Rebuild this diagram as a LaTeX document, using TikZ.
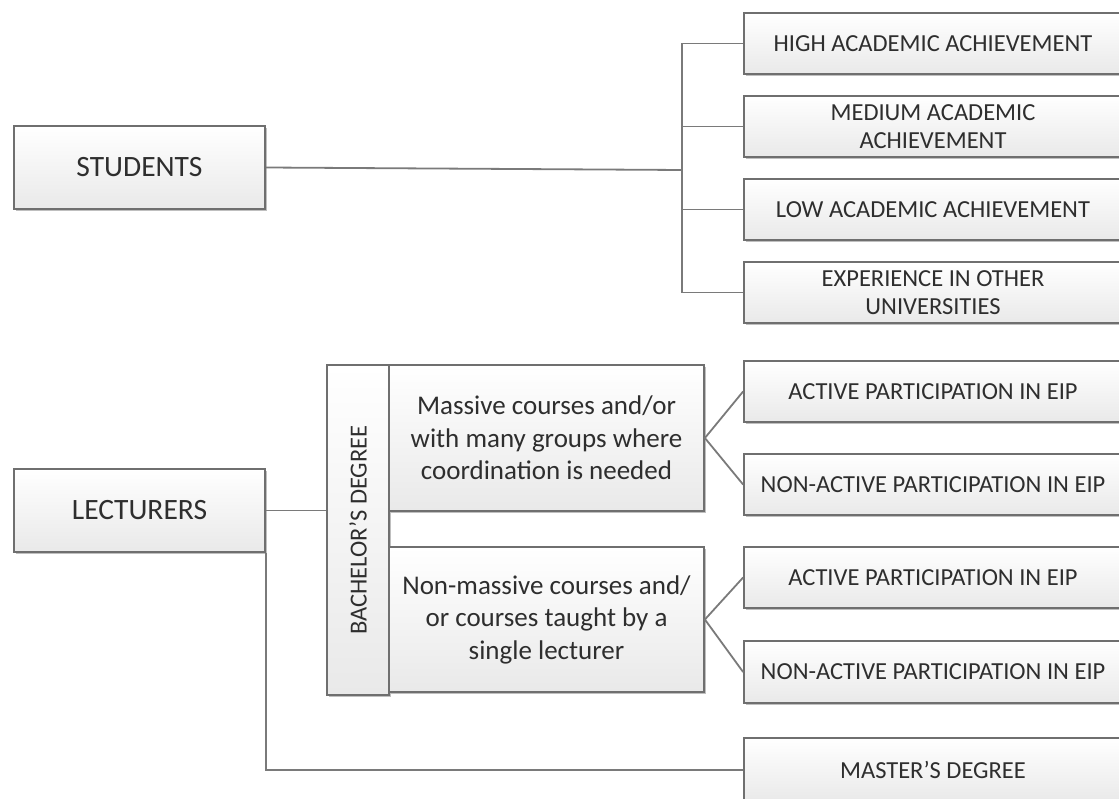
\documentclass[tikz,border=0pt]{standalone}
\usepackage{fontspec}
\setmainfont{Carlito}
\usetikzlibrary{shadows}
\definecolor{boxline}{HTML}{6F6F6F}
\definecolor{conn}{HTML}{7A7A7A}
\definecolor{txt}{HTML}{2E2E2E}
\definecolor{boxbot}{HTML}{E9E9E9}
\tikzset{
  box/.style={draw=boxline, line width=1.8pt, top color=white, bottom color=boxbot,
    text=txt, align=center, inner sep=0pt,
    drop shadow={opacity=0.25, shadow xshift=2pt, shadow yshift=-2pt, fill=black}},
  bigtxt/.style={font=\fontsize{29.5}{34}\selectfont},
  midtxt/.style={font=\fontsize{27}{32.5}\selectfont},
  smalltxt/.style={font=\fontsize{24.5}{28.5}\selectfont},
  conline/.style={draw=conn, line width=1.8pt}
}
\begin{document}
\begin{tikzpicture}[x=1pt,y=-1pt]
\useasboundingbox (0,0) rectangle (1119,799);
\clip (0,0) rectangle (1119,799);
% students branch
\node[box, bigtxt, minimum width=251pt, minimum height=83pt] (stud) at (139.5,167.5) {STUDENTS};
\node[box, smalltxt, minimum width=378pt, minimum height=61pt] (h1) at (933,43.5) {HIGH ACADEMIC ACHIEVEMENT};
\node[box, smalltxt, minimum width=378pt, minimum height=61pt] (h2) at (933,126.5) {MEDIUM ACADEMIC\\ACHIEVEMENT};
\node[box, smalltxt, minimum width=378pt, minimum height=61pt] (h3) at (933,209.5) {LOW ACADEMIC ACHIEVEMENT};
\node[box, smalltxt, minimum width=378pt, minimum height=61pt] (h4) at (933,292.5) {EXPERIENCE IN OTHER\\UNIVERSITIES};
\coordinate (sb) at (682,170);
\draw[conline] (stud.east) -- (sb);
\draw[conline] (h1.west) -- (h1.west -| sb) -- (h4.west -| sb) -- (h4.west);
\draw[conline] (h2.west) -- (h2.west -| sb);
\draw[conline] (h3.west) -- (h3.west -| sb);
% lecturers branch
\node[box, bigtxt, minimum width=251pt, minimum height=83pt] (lect) at (139.5,510.5) {LECTURERS};
\node[box, minimum width=62pt, minimum height=330pt] (bach) at (358,530) {};
\node[smalltxt, text=txt, rotate=90, inner sep=0pt] (bacht) at (bach.center) {BACHELOR’S DEGREE};
\node[box, midtxt, minimum width=315pt, minimum height=146pt] (mass) at (546.5,438) {Massive courses and/or\\with many groups where\\coordination is needed};
\node[box, midtxt, minimum width=315pt, minimum height=145pt] (nonm) at (546.5,619.5) {Non-massive courses and/\\or courses taught by a\\single lecturer};
\node[box, smalltxt, minimum width=378pt, minimum height=61pt] (a1) at (933,391.5) {ACTIVE PARTICIPATION IN EIP};
\node[box, smalltxt, minimum width=378pt, minimum height=61pt] (a2) at (933,484.5) {NON-ACTIVE PARTICIPATION IN EIP};
\node[box, smalltxt, minimum width=378pt, minimum height=61pt] (b1) at (933,577.5) {ACTIVE PARTICIPATION IN EIP};
\node[box, smalltxt, minimum width=378pt, minimum height=62pt] (b2) at (933,672) {NON-ACTIVE PARTICIPATION IN EIP};
\node[box, smalltxt, minimum width=378pt, minimum height=64pt] (mast) at (933,770) {MASTER’S DEGREE};
\draw[conline] (lect.east) -- (lect.east -| bach.west);
\draw[conline] (lect.south east) |- (mast.west);
\draw[conline] (a1.west) -- (mass.east) -- (a2.west);
\draw[conline] (b1.west) -- (nonm.east) -- (b2.west);
\end{tikzpicture}
\end{document}
